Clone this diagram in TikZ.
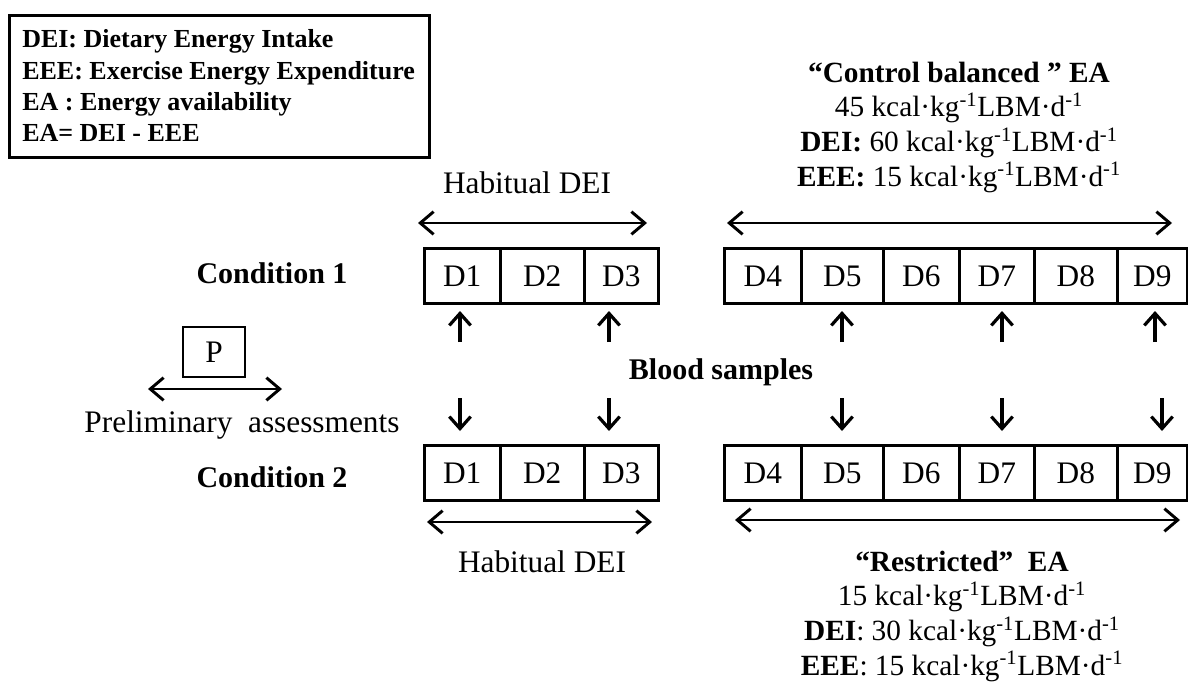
\documentclass[tikz,border=0pt]{standalone}
\usepackage{fontspec}
\setmainfont{Liberation Serif}
\usetikzlibrary{arrows.meta}
\newcommand{\mainsz}{\fontsize{23.5}{28}\selectfont}
\newcommand{\eaSz}{\fontsize{22}{26}\selectfont}
\newcommand{\boldsz}{\fontsize{22.5}{27}\selectfont\bfseries}
\newcommand{\legsz}{\fontsize{19.5}{23.5}\selectfont\bfseries}
\newcommand{\su}{\textsuperscript{-1}}
\newcommand{\unitstr}{kcal·kg\su LBM·d\su}
\newcommand{\daycell}[5]{\node[cell, minimum width={(#3-#2)*0.75pt}, anchor=north west] (#1) at (#2,#4) {#5};}
\tikzset{
  cell/.style={draw, line width=1.9pt, minimum height={55*0.75pt}, inner sep=0pt, text height=15.6pt, text depth=0pt, font=\mainsz},
  harr/.style={line width=2.2pt, {Straight Barb[length=10pt,width=17pt,line width=2.2pt]}-{Straight Barb[length=10pt,width=17pt,line width=2.2pt]}},
  varr/.style={line width=2.4pt, -{Straight Barb[length=9pt,width=16pt,line width=2.4pt]}},
  lbl/.style={font=\mainsz, inner sep=0pt},
  blbl/.style={font=\boldsz, inner sep=0pt},
}
\begin{document}
\begin{tikzpicture}[x=0.75pt, y=-0.75pt]
\useasboundingbox (0,0) rectangle (1188,689);
% legend
\node[draw, line width=2.1pt, anchor=north west, minimum width={420*0.75pt}, minimum height={142*0.75pt}, inner sep=0pt] (legend) at (8,14) {};
\node[anchor=west, align=left, font=\legsz, inner sep=0pt] (legtext) at (22,86) {DEI: Dietary Energy Intake\\EEE: Exercise Energy Expenditure\\EA : Energy availability\\EA= DEI - EEE};
% control block
\node[align=center, font=\eaSz, inner sep=0pt] (ctrl) at (959,127) {\textbf{“Control balanced ” EA}\\45 \unitstr\\\textbf{DEI:} 60 \unitstr\\\textbf{EEE:} 15 \unitstr};
% restricted block
\node[align=center, font=\eaSz, inner sep=0pt] (restr) at (962,616) {\textbf{“Restricted”\ \ EA}\\15 \unitstr\\\textbf{DEI}: 30 \unitstr\\\textbf{EEE}: 15 \unitstr};
% habitual labels
\node[lbl] (hab1) at (527,183) {Habitual DEI};
\node[lbl] (hab2) at (542,562) {Habitual DEI};
% conditions
\node[blbl] (cond1) at (272,273) {Condition 1};
\node[blbl] (cond2) at (272,477) {Condition 2};
\node[blbl] (blood) at (721,372) {Blood samples};
% P box
\node[draw, line width=1.9pt, minimum width={62*0.75pt}, minimum height={50*0.75pt}, inner sep=0pt, text height=15.6pt, text depth=0pt, font=\mainsz] (P) at (214,352) {P};
\node[lbl] (prelim) at (242,425) {Preliminary\ \ assessments};
% day cells condition 1
\daycell{aa1}{423}{499}{247}{D1}
\daycell{aa2}{499}{583}{247}{D2}
\daycell{aa3}{583}{657}{247}{D3}
\daycell{aa4}{723}{800}{247}{D4}
\daycell{aa5}{800}{882}{247}{D5}
\daycell{aa6}{882}{958}{247}{D6}
\daycell{aa7}{958}{1033}{247}{D7}
\daycell{aa8}{1033}{1116}{247}{D8}
\daycell{aa9}{1116}{1186}{247}{D9}
% day cells condition 2
\daycell{bb1}{423}{499}{444}{D1}
\daycell{bb2}{499}{583}{444}{D2}
\daycell{bb3}{583}{657}{444}{D3}
\daycell{bb4}{723}{800}{444}{D4}
\daycell{bb5}{800}{882}{444}{D5}
\daycell{bb6}{882}{958}{444}{D6}
\daycell{bb7}{958}{1033}{444}{D7}
\daycell{bb8}{1033}{1116}{444}{D8}
\daycell{bb9}{1116}{1186}{444}{D9}
% horizontal arrows
\coordinate (h1a) at (418,223); \coordinate (h1b) at (647,223);
\coordinate (h2a) at (727,223); \coordinate (h2b) at (1172,223);
\coordinate (h3a) at (427,522); \coordinate (h3b) at (652,522);
\coordinate (h4a) at (735,520); \coordinate (h4b) at (1180,520);
\coordinate (h5a) at (148,389); \coordinate (h5b) at (282,389);
\draw[harr] (h1a) -- (h1b);
\draw[harr] (h2a) -- (h2b);
\draw[harr] (h3a) -- (h3b);
\draw[harr] (h4a) -- (h4b);
\draw[harr] (h5a) -- (h5b);
% up arrows
\foreach \n/\x in {1/460,2/609,3/842,4/1002,5/1155}{
  \coordinate (ua\n) at (\x,342); \coordinate (ub\n) at (\x,311);
  \draw[varr] (ua\n) -- (ub\n);
}
% down arrows
\foreach \n/\x in {1/460,2/609,3/842,4/1002,5/1162}{
  \coordinate (da\n) at (\x,398); \coordinate (db\n) at (\x,431);
  \draw[varr] (da\n) -- (db\n);
}
\end{tikzpicture}
\end{document}
